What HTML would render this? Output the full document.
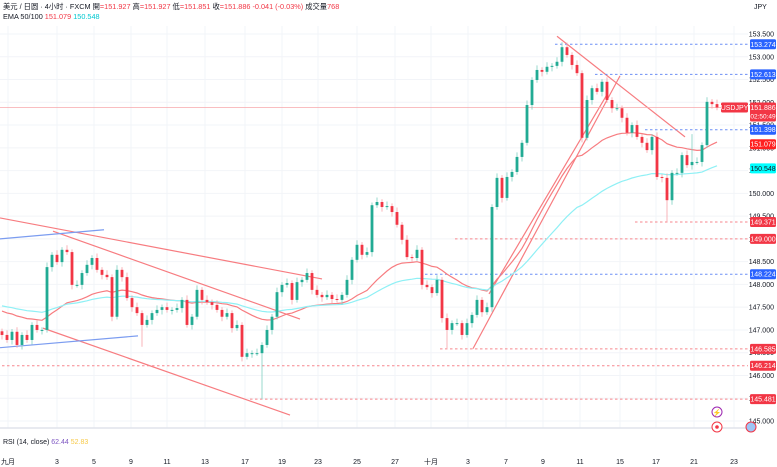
<!DOCTYPE html>
<html><head><meta charset="utf-8"><style>
html,body{margin:0;padding:0;background:#fff;}
svg{display:block;font-family:"Liberation Sans","Noto Sans CJK SC",sans-serif;}
</style></head><body>
<svg id="chart" width="777" height="467" viewBox="0 0 777 467">
<g id="grid"></g>
<g id="drawings"></g>
<g id="emas"></g>
<g id="candles"></g>
<g id="axis"></g>
<g id="taxis"></g>
<text x="3" y="9" font-size="7.3" fill="#131722">美元 / 日圆 · 4小时 · FXCM <tspan>開</tspan><tspan fill="#f23645">=151.927</tspan> 高<tspan fill="#f23645">=151.927</tspan> 低<tspan fill="#f23645">=151.851</tspan> 收<tspan fill="#f23645">=151.886</tspan> <tspan fill="#f23645">-0.041 (-0.03%)</tspan> 成交量<tspan fill="#f23645">768</tspan></text>
<text x="3" y="19" font-size="7.3" fill="#131722">EMA 50/100 <tspan fill="#f23645">151.079</tspan> <tspan fill="#00c8d0">150.548</tspan></text>
<text x="754" y="9" font-size="7" fill="#131722">JPY</text>
<line x1="0" y1="428" x2="748" y2="428" stroke="#e0e3eb" stroke-width="1.5"/>
<text x="3" y="444" font-size="7" fill="#131722">RSI (14, close) <tspan fill="#7e57c2">62.44</tspan> <tspan fill="#f7c948">52.83</tspan></text>
<circle cx="717" cy="412" r="5" fill="#fff" stroke="#9c27b0" stroke-width="1"/>
<text x="717" y="415" font-size="7" fill="#9c27b0" text-anchor="middle">⚡</text>
<circle cx="717" cy="427" r="5" fill="#fff" stroke="#f23645" stroke-width="1"/>
<circle cx="717" cy="427" r="1.8" fill="#f23645"/>
<circle cx="751" cy="427" r="5" fill="#9ec5f5" stroke="#f23645" stroke-width="1"/>
</svg>
<script>
const closes=[146.89,146.78,146.96,146.67,146.89,146.78,147.11,147.00,147.00,148.38,148.65,148.49,148.76,148.71,147.99,147.99,148.25,148.43,148.58,148.32,148.21,148.16,147.29,148.32,148.16,147.70,147.50,147.37,147.11,147.22,147.37,147.44,147.50,147.44,147.44,147.48,147.66,147.11,147.29,147.88,147.66,147.61,147.55,147.44,147.29,147.37,147.04,147.11,146.41,146.49,146.49,146.49,146.67,147.00,147.29,147.83,147.99,148.03,147.66,148.05,148.10,148.25,147.88,147.77,147.72,147.77,147.68,147.66,147.77,148.10,148.54,148.87,148.65,148.71,149.74,149.81,149.70,149.72,149.59,149.31,148.98,148.60,148.58,148.76,147.99,147.94,147.81,148.10,147.26,147.00,147.15,147.15,146.89,147.15,147.33,147.66,147.39,147.50,149.70,150.34,149.90,150.36,150.47,150.80,151.11,151.94,152.49,152.71,152.67,152.78,152.80,152.89,153.21,153.04,152.82,152.64,151.22,152.05,152.31,152.23,152.45,152.05,151.87,151.87,151.66,151.33,151.50,151.24,151.11,150.95,151.24,150.36,150.34,149.85,150.45,150.45,150.84,150.62,150.69,150.69,151.06,152.01,151.96,151.886];
const wickPad=[0.06,0.1];
const extremeIdx=[28,52,89,98,112,133,138];
const extremeVal=[146.63,145.48,146.60,148.97,153.32,149.37,151.30];
const emaPeriods=[31,62];
const emaSeeds=[147.45,147.55];
const emaColors=["#f77c80","#8ff0f5"];
const priceTicks=[153.5,153.0,152.5,152.0,151.5,151.0,150.5,150.0,149.5,149.0,148.5,148.0,147.5,147.0,146.5,146.0,145.5,145.0];
const dateLabels=["九月","3","5","9","11","13","17","19","23","25","27","十月","3","7","9","11","15","17","21","23"];
const dateIdx=[1.2,11,18.4,25.8,33,40.6,48.6,56,63.2,71,78.6,85.8,93.2,100.8,108.2,115.6,123.6,130.8,138.4,146.4];
const levelPrices=[153.274,152.613,151.398,149.371,149.000,148.224,146.585,146.214,145.481];
const levelStart=[110.6,118.6,128.6,126.6,90.6,84.6,87.6,0,49.6];
const levelKinds=["b","b","b","r","r","b","r","r","r"];
const lastPrice=151.886, ema50Val=151.079, ema100Val=150.548;

const NS="http://www.w3.org/2000/svg";
const PW=748;
function y(p){return 34+(153.5-p)*45.53;}
function x(i){return 2+5*i;}
function el(tag,attrs,parent){const e=document.createElementNS(NS,tag);for(const k in attrs)e.setAttribute(k,attrs[k]);parent.appendChild(e);return e;}
const grid=document.getElementById('grid'),cg=document.getElementById('candles'),ax=document.getElementById('axis'),tx=document.getElementById('taxis'),dg=document.getElementById('drawings'),eg=document.getElementById('emas');

priceTicks.forEach(p=>{
  const l=el('line',{x1:0,x2:PW,y1:y(p),y2:y(p),stroke:'#f2f4f8','stroke-width':1},grid);
  
  
  const t=el('text',{x:774,y:y(p)+2.5,'font-size':7,'text-anchor':'end',fill:'#131722'},ax);
  t.textContent=p.toFixed(3);
  
  
});
dateLabels.forEach((d,k)=>{
  const xx=x(dateIdx[k]);
  const l=el('line',{x1:xx,x2:xx,y1:26,y2:428,stroke:'#f2f4f8','stroke-width':1},grid);
  
  
  const t=el('text',{x:xx,y:464,'font-size':7,'text-anchor':'middle',fill:'#131722'},tx);
  t.textContent=d;
  
  
});

const segs=[
 {i1:-0.4,p1:149.46,i2:64,p2:148.12,c:'#f77c80'},
 {i1:10.2,p1:149.17,i2:59.6,p2:147.24,c:'#f77c80'},
 {i1:8.2,p1:147.04,i2:57.6,p2:145.13,c:'#f77c80'},
 {i1:-0.4,p1:149.0,i2:20.4,p2:149.2,c:'#7b9cf0'},
 {i1:-0.4,p1:146.61,i2:27.2,p2:146.87,c:'#7b9cf0'},
 {i1:94.2,p1:146.59,i2:123.6,p2:152.58,c:'#f77c80'},
 {i1:97.4,p1:147.79,i2:121,p2:152.17,c:'#f77c80'},
 {i1:111,p1:153.45,i2:136.6,p2:151.24,c:'#f77c80'}
];
segs.forEach(s=>{
  const l=el('line',{x1:x(s.i1),y1:y(s.p1),x2:x(s.i2),y2:y(s.p2),stroke:s.c,'stroke-width':1.2},dg);
  
  
});
const cur=el('line',{x1:0,x2:PW,y1:y(lastPrice),y2:y(lastPrice),stroke:'#f7a8ad','stroke-width':0.8},dg);


levelPrices.forEach((p,k)=>{
  const c=levelKinds[k]==='b'?'#2962ff':'#f23645';
  const l=el('line',{x1:x(levelStart[k]),x2:PW,y1:y(p),y2:y(p),stroke:levelKinds[k]==='b'?'#6d8ff5':'#f7868d','stroke-width':1,'stroke-dasharray':'2.5,2.5'},dg);
  
  
  const r=el('rect',{x:750,y:y(p)-5,width:26,height:10,rx:1.5,fill:c},ax);
  
  
  const t=el('text',{x:763,y:y(p)+2.5,'font-size':7,'text-anchor':'middle',fill:'#fff'},ax);
  t.textContent=p.toFixed(3);
  
  
});

emaPeriods.forEach((n,k)=>{
  const a=2/(n+1);let e=emaSeeds[k];const pts=[];
  closes.forEach((c,i)=>{e=e+a*(c-e);pts.push(x(i).toFixed(1)+','+y(e).toFixed(1));});
  const pl=el('polyline',{points:pts.join(' '),fill:'none',stroke:emaColors[k],'stroke-width':1.2},eg);
  
  
});

closes.forEach((c,i)=>{
  const o=i===0?c+0.08:closes[i-1];
  const up=c>=o;
  let hi=Math.max(o,c)+wickPad[i%2], lo=Math.min(o,c)-wickPad[(i+1)%2];
  const ei=extremeIdx.indexOf(i);
  if(ei>=0){const v=extremeVal[ei]; if(v>hi)hi=v; else if(v<lo)lo=v;}
  const col=up?'#22ab94':'#f23645';
  const w=el('line',{x1:x(i),x2:x(i),y1:y(hi),y2:y(lo),stroke:up?'#7fcfc2':'#f7a1a8','stroke-width':0.8},cg);
  
  
  const top=y(Math.max(o,c)),bot=y(Math.min(o,c));
  const b=el('rect',{x:x(i)-1.4,y:top,width:2.8,height:Math.max(1,bot-top),fill:col},cg);
  
  
});

function lab(p,fill,txt,tc,h){
  const r=el('rect',{x:750,y:y(p)-5,width:26,height:h||10,rx:1.5,fill:fill},ax);
  
  
  const t=el('text',{x:763,y:y(p)+2.5,'font-size':7,'text-anchor':'middle',fill:tc},ax);
  t.textContent=txt;
  
  
}
lab(ema50Val,'#ff2020',ema50Val.toFixed(3),'#fff');
lab(ema100Val,'#00ffff',ema100Val.toFixed(3),'#131722');
lab(lastPrice,'#f23645',lastPrice.toFixed(3),'#fff',19);
const cd=el('text',{x:763,y:y(lastPrice)+11,'font-size':6.5,'text-anchor':'middle',fill:'#fff'},ax);
cd.textContent='02:50:49';


const sr=el('rect',{x:721,y:y(lastPrice)-5,width:27,height:10,rx:1.5,fill:'#f23645'},ax);


const st=el('text',{x:734.5,y:y(lastPrice)+2.5,'font-size':7,'text-anchor':'middle',fill:'#fff'},ax);
st.textContent='USDJPY';


</script>
</body></html>
